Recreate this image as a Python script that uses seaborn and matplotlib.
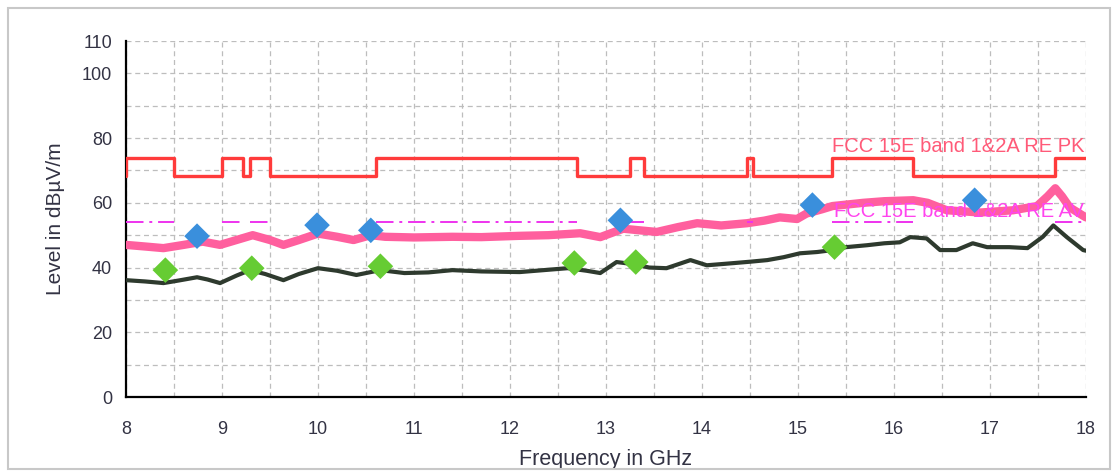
import matplotlib
matplotlib.use("Agg")
import matplotlib.pyplot as plt
import matplotlib.patches as mpatches
import seaborn as sns
import pandas as pd
import numpy as np

# ---------------- data ----------------
# Peak limit line (step edges and levels, steps-post)
pk_limit_f = [8.0, 8.0, 8.5, 9.0, 9.22, 9.29, 9.5, 10.6, 12.7, 13.25, 13.4, 14.47, 14.53, 15.35, 16.2, 17.68, 18.0]
pk_limit_v = [68.2, 74, 68.2, 74, 68.2, 74, 68.2, 74, 68.2, 74, 68.2, 74, 68.2, 74, 68.2, 74, 74]
# Average limit line: visible 54 dB segments (start, end)
av_limit_start = [8.0, 9.0, 9.29, 10.6, 13.25, 14.47, 15.35, 17.68]
av_limit_end = [8.5, 9.22, 9.5, 12.7, 13.4, 14.53, 16.2, 18.0]
av_limit_level = 54

# Peak trace (pink)
pk_f = [8.0, 8.2, 8.39, 8.6, 8.8, 8.98, 9.15, 9.32, 9.5, 9.64, 9.8, 10.0, 10.2, 10.37, 10.55, 10.7,
        11.0, 11.4, 11.7, 12.1, 12.4, 12.73, 12.94, 13.18, 13.35, 13.53, 13.75, 13.95, 14.2, 14.47,
        14.65, 14.81, 14.99, 15.09, 15.25, 15.36, 15.68, 15.9, 16.2, 16.35, 16.55, 16.9, 17.24, 17.49,
        17.6, 17.68, 17.75, 17.83, 17.97, 18.0]
pk_v = [47, 46.5, 46, 47, 48, 47, 48.5, 50, 48.5, 47, 48.5, 50.5, 49.5, 48.5, 50, 49.5,
        49.3, 49.5, 49.4, 49.8, 50, 50.6, 49.4, 52, 51.5, 51, 52.5, 53.7, 53, 53.7,
        54.5, 55.5, 55, 56.7, 58, 59, 60, 60.5, 60.8, 60, 57.7, 57, 57.7, 59,
        62, 64.5, 62, 58.6, 56, 55.5]

# Average trace (dark)
av_f = [8.0, 8.2, 8.39, 8.55, 8.74, 8.85, 8.98, 9.15, 9.29, 9.45, 9.64, 9.8, 10.0, 10.2, 10.4, 10.65,
        10.9, 11.15, 11.4, 11.7, 12.1, 12.35, 12.6, 12.8, 12.94, 13.11, 13.3, 13.45, 13.63, 13.88,
        14.05, 14.3, 14.5, 14.68, 14.85, 15.02, 15.2, 15.36, 15.5, 15.72, 15.9, 16.06, 16.17, 16.34,
        16.48, 16.65, 16.82, 16.97, 17.2, 17.39, 17.55, 17.66, 17.8, 17.97, 18.0]
av_v = [36.1, 35.7, 35.2, 36, 37, 36.3, 35.2, 37.5, 39.2, 38, 36.1, 38, 39.8, 39, 37.7, 39.2,
        38.3, 38.5, 39.2, 38.8, 38.6, 39.2, 39.8, 39, 38.3, 41.7, 41, 40, 39.8, 42.3,
        40.7, 41.3, 41.8, 42.3, 43.2, 44.4, 44.8, 45.4, 46.3, 46.9, 47.5, 47.8, 49.4, 49,
        45.4, 45.4, 47.5, 46.3, 46.3, 46, 49.5, 53, 49.4, 45.4, 45.2]

# Final measurement markers
pk_mark_f = [8.74, 9.99, 10.55, 13.15, 15.15, 16.84]
pk_mark_v = [49.7, 53.1, 51.5, 54.6, 59.3, 60.8]
av_mark_f = [8.41, 9.31, 10.65, 12.67, 13.31, 15.38]
av_mark_v = [39.2, 39.8, 40.4, 41.4, 41.7, 46.3]

yticks = list(range(0, 111, 10))
ytick_labels = ["0", "", "20", "", "40", "", "60", "", "80", "", "100", "110"]
xticks = list(np.arange(8, 18.01, 0.5))
xtick_labels = [str(int(t)) if float(t).is_integer() else "" for t in xticks]

pk_label = "FCC 15E band 1&2A RE PK"
av_label = "FCC 15E band 1&2A RE AV"

# ---------------- style ----------------
sns.set_theme(style="white")
plt.rcParams['font.family'] = ['Liberation Sans', 'DejaVu Sans']

fig = plt.figure(figsize=(11.16, 4.71), dpi=100)
ax = fig.add_axes([126/1116, 1 - 397/471, (1086 - 126)/1116, (397 - 41)/471])

# figure border
fig.patches.append(mpatches.Rectangle((8/1116, 2/471), 1102/1116, 461/471,
                                      transform=fig.transFigure, fill=False,
                                      edgecolor="#c8c8c8", linewidth=1.5))

RED = "#ff3b3b"
MAG = "#ee33ee"
PINK = "#ff5f9e"
DARK = "#2e3a2e"

df_pkl = pd.DataFrame({"f": pk_limit_f, "v": pk_limit_v})
seg_f, seg_v, seg_u = [], [], []
for i, (s, e) in enumerate(zip(av_limit_start, av_limit_end)):
    seg_f += [s, e]
    seg_v += [av_limit_level, av_limit_level]
    seg_u += [i, i]
df_avl = pd.DataFrame({"f": seg_f, "v": seg_v, "u": seg_u})
df_pk = pd.DataFrame({"f": pk_f, "v": pk_v})
df_av = pd.DataFrame({"f": av_f, "v": av_v})

sns.lineplot(data=df_pk, x="f", y="v", ax=ax, color=PINK, linewidth=6, sort=False,
             estimator=None, zorder=3)
sns.lineplot(data=df_av, x="f", y="v", ax=ax, color=DARK, linewidth=3, sort=False,
             estimator=None, zorder=4)
sns.lineplot(data=df_avl, x="f", y="v", units="u", ax=ax, color=MAG, linewidth=1.4, sort=False,
             estimator=None, linestyle=(0, (9, 3, 1.5, 3)), zorder=5)
sns.lineplot(data=df_pkl, x="f", y="v", ax=ax, color=RED, linewidth=2.4, sort=False,
             estimator=None, drawstyle="steps-post", zorder=6)

sns.scatterplot(x=pk_mark_f, y=pk_mark_v, ax=ax, marker="D", s=170, color="#3a8fdc",
                edgecolor="none", zorder=7)
sns.scatterplot(x=av_mark_f, y=av_mark_v, ax=ax, marker="D", s=170, color="#66cc33",
                edgecolor="none", zorder=7)

ax.text(17.98, 75.7, pk_label, ha="right", va="baseline", color="#ff5a78", fontsize=14.5)
ax.text(17.98, 55.6, av_label, ha="right", va="baseline", color="#ff44ee", fontsize=14.5)

ax.set_xlim(8, 18)
ax.set_ylim(0, 110)
ax.set_xticks(xticks)
ax.set_xticklabels(xtick_labels)
ax.set_yticks(yticks)
ax.set_yticklabels(ytick_labels)
ax.tick_params(axis="both", direction="inout", length=12, width=1.3, color="black",
               labelsize=13, labelcolor="#333344", pad=4)
ax.tick_params(axis="x", pad=11)

ax.grid(True, which="major", color="#bdbdbd", linestyle=(0, (4, 3)), linewidth=0.9)
for side in ["top", "right"]:
    ax.spines[side].set_visible(False)
for side in ["left", "bottom"]:
    ax.spines[side].set_color("black")
    ax.spines[side].set_linewidth(1.6)

ax.set_xlabel("Frequency in GHz", fontsize=15.5, color="#333344", labelpad=8)
ax.set_ylabel("Level in dBµV/m", fontsize=15, color="#333344", labelpad=12)

fig.savefig("out.png", dpi=100)
